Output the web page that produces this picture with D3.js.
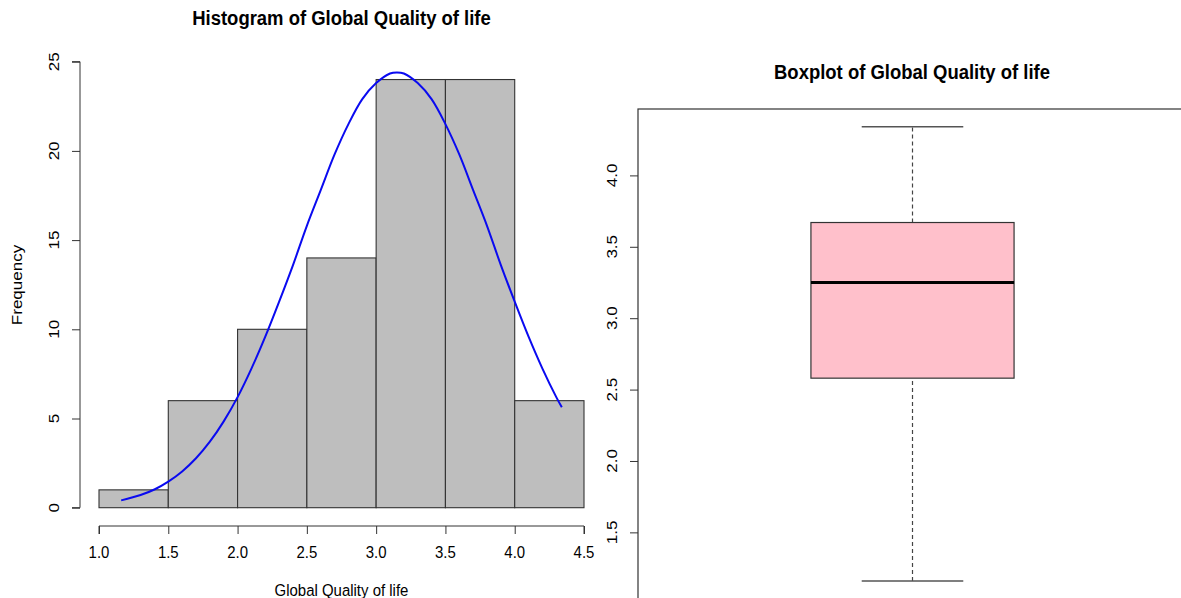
<!DOCTYPE html>
<html>
<head>
<meta charset="utf-8">
<script src="https://cdn.jsdelivr.net/npm/d3@7"></script>
<style>
  html, body { margin: 0; padding: 0; background: #fff; }
  svg { display: block; font-family: "Liberation Sans", Arial, sans-serif; }
</style>
</head>
<body>
<svg id="chart" width="1181" height="598"></svg>
<script>
// ---- data ----
const histBreaks = [1.0, 1.5, 2.0, 2.5, 3.0, 3.5, 4.0, 4.5];
const histCounts = [1, 6, 10, 14, 24, 24, 6];
const histXTicks = [1.0, 1.5, 2.0, 2.5, 3.0, 3.5, 4.0, 4.5];
const histYTicks = [0, 5, 10, 15, 20, 25];

// fitted normal curve (frequency scale), sampled along the data range
const curveX = [1.16, 1.3, 1.4, 1.5, 1.6, 1.7, 1.8, 1.9, 2.0, 2.1, 2.2, 2.3, 2.4, 2.5, 2.6, 2.7,
                2.8, 2.9, 3.0, 3.1, 3.15, 3.2, 3.3, 3.4, 3.5, 3.6, 3.7, 3.8, 3.9, 4.0, 4.1, 4.2, 4.3, 4.34];
const curveY = [0.41, 0.71, 1.02, 1.46, 2.03, 2.77, 3.70, 4.84, 6.20, 7.80, 9.59, 11.55, 13.6, 15.8, 17.8, 19.8,
                21.5, 22.9, 23.8, 24.34, 24.4, 24.34, 23.8, 22.9, 21.5, 19.8, 17.8, 15.8, 13.6, 11.55, 9.59, 7.80, 6.20, 5.63];

// five-number summary for the boxplot
const boxStats = { low: 1.16, q1: 2.58, median: 3.25, q3: 3.67, high: 4.34 };
const boxYTicks = [1.5, 2.0, 2.5, 3.0, 3.5, 4.0];

const titleHist = "Histogram of Global Quality of life";
const titleBox = "Boxplot of Global Quality of life";
const xLabelHist = "Global Quality of life";
const yLabelHist = "Frequency";

// ---- style ----
const SX = 0.88;            // horizontal squeeze of glyphs
const FONT = 17;
const FONT_TITLE = 21;
const AXIS = "#333";

const svg = d3.select("#chart");

function label(x, y, txt, opts = {}) {
  const g = svg.append("g")
    .attr("transform", `translate(${x},${y}) scale(${SX},1)` + (opts.rotate ? " rotate(-90)" : ""));
  g.append("text")
    .attr("text-anchor", opts.anchor || "middle")
    .attr("font-size", opts.size || FONT)
    .attr("font-weight", opts.bold ? "bold" : "normal")
    .attr("fill", opts.fill || "#000")
    .text(txt);
  return g;
}

// ================= Histogram =================
const hx = d3.scaleLinear().domain([1.0, 4.5]).range([99, 584]);
const hy = d3.scaleLinear().domain([0, 25]).range([507.7, 61.7]);

const bins = histCounts.map((c, i) => ({ x0: histBreaks[i], x1: histBreaks[i + 1], n: c }));

svg.append("g").selectAll("rect")
  .data(bins).join("rect")
  .attr("x", d => hx(d.x0))
  .attr("y", d => hy(d.n))
  .attr("width", d => hx(d.x1) - hx(d.x0))
  .attr("height", d => hy(0) - hy(d.n))
  .attr("fill", "#BEBEBE")
  .attr("stroke", AXIS)
  .attr("stroke-width", 1.1);

const line = d3.line()
  .x((d, i) => hx(curveX[i]))
  .y(d => hy(d))
  .curve(d3.curveCatmullRom);

svg.append("path")
  .attr("d", line(curveY))
  .attr("fill", "none")
  .attr("stroke", "#0a0af0")
  .attr("stroke-width", 2);

// x axis (detached below the bars)
const hxAxis = svg.append("g")
  .attr("transform", "translate(0,526)")
  .call(d3.axisBottom(hx).tickValues(histXTicks).tickSize(8).tickFormat(() => ""));
hxAxis.select(".domain").attr("stroke", AXIS).attr("d", `M${hx(1.0)},8V0H${hx(4.5)}V8`);
hxAxis.selectAll(".tick line").attr("stroke", AXIS);
histXTicks.forEach(v => label(hx(v), 558, d3.format(".1f")(v)));

// y axis
const hyAxis = svg.append("g")
  .attr("transform", "translate(80,0)")
  .call(d3.axisLeft(hy).tickValues(histYTicks).tickSize(8).tickFormat(() => ""));
hyAxis.select(".domain").attr("stroke", AXIS).attr("d", `M-8,${hy(25)}H0V${hy(0)}H-8`);
hyAxis.selectAll(".tick line").attr("stroke", AXIS);
histYTicks.forEach(v => label(80 - 21, hy(v), String(v), { rotate: true }));

label(341.5, 25, titleHist, { bold: true, size: FONT_TITLE });
label(341.5, 596, xLabelHist);
label(22, 285, yLabelHist, { rotate: true });

// ================= Boxplot =================
const bx = d3.scaleLinear().domain([0.5, 1.5]).range([638, 1187]);
const by = d3.scaleLinear().domain([1.032, 4.465]).range([599.2, 109]);
const halfBox = 0.185, halfCap = 0.0925;

// plot frame
svg.append("rect")
  .attr("x", bx(0.5)).attr("y", by(4.465))
  .attr("width", bx(1.5) - bx(0.5)).attr("height", by(1.032) - by(4.465))
  .attr("fill", "none").attr("stroke", AXIS).attr("stroke-width", 1.2);

// whiskers
[[boxStats.q3, boxStats.high], [boxStats.low, boxStats.q1]].forEach(([a, b]) => {
  svg.append("line")
    .attr("x1", bx(1)).attr("x2", bx(1))
    .attr("y1", by(a)).attr("y2", by(b))
    .attr("stroke", "#444").attr("stroke-width", 1.2)
    .attr("stroke-dasharray", "4,3");
});
[boxStats.low, boxStats.high].forEach(v => {
  svg.append("line")
    .attr("x1", bx(1 - halfCap)).attr("x2", bx(1 + halfCap))
    .attr("y1", by(v)).attr("y2", by(v))
    .attr("stroke", "#555").attr("stroke-width", 1.5);
});

// box
svg.append("rect")
  .attr("x", bx(1 - halfBox)).attr("y", by(boxStats.q3))
  .attr("width", bx(1 + halfBox) - bx(1 - halfBox))
  .attr("height", by(boxStats.q1) - by(boxStats.q3))
  .attr("fill", "#FFC0CB").attr("stroke", AXIS).attr("stroke-width", 1.2);
svg.append("line")
  .attr("x1", bx(1 - halfBox)).attr("x2", bx(1 + halfBox))
  .attr("y1", by(boxStats.median)).attr("y2", by(boxStats.median))
  .attr("stroke", "#000").attr("stroke-width", 3);

// y axis
const byAxis = svg.append("g")
  .attr("transform", `translate(${bx(0.5)},0)`)
  .call(d3.axisLeft(by).tickValues(boxYTicks).tickSize(8).tickFormat(() => ""));
byAxis.select(".domain").remove();
byAxis.selectAll(".tick line").attr("stroke", AXIS);
boxYTicks.forEach(v => label(bx(0.5) - 21, by(v), d3.format(".1f")(v), { rotate: true }));

label(912, 79, titleBox, { bold: true, size: FONT_TITLE });
</script>
</body>
</html>
